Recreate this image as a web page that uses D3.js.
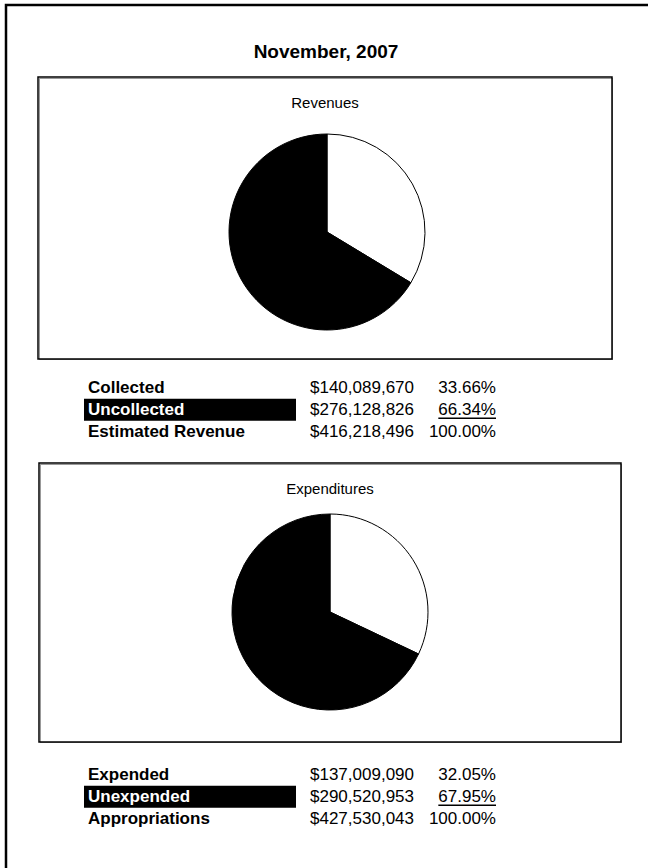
<!DOCTYPE html>
<html>
<head>
<meta charset="utf-8">
<script src="https://cdn.jsdelivr.net/npm/d3@7"></script>
<style>
  html, body { margin: 0; padding: 0; background: #fff; }
  svg text { font-family: Arial, 'Liberation Sans', sans-serif; fill: #000; }
  .title { font-size: 19px; font-weight: bold; }
  .panel-title { font-size: 15px; }
  .row-label { font-size: 17px; font-weight: bold; }
  .row-label.hl { fill: #fff; }
  .row-val { font-size: 17px; }
</style>
</head>
<body>
<div id="chart"></div>
<script>
// ---- data ----
const titleText = "November, 2007";

const revLabels = ["Collected", "Uncollected", "Estimated Revenue"];
const revAmounts = [140089670, 276128826, 416218496];
const revPercents = ["33.66%", "66.34%", "100.00%"];

const expLabels = ["Expended", "Unexpended", "Appropriations"];
const expAmounts = [137009090, 290520953, 427530043];
const expPercents = ["32.05%", "67.95%", "100.00%"];

const W = 648, H = 868;

const svg = d3.select("#chart").append("svg")
  .attr("width", W).attr("height", H);

// outer frame runs off the right and bottom edges
svg.append("rect")
  .attr("x", 6).attr("y", 5)
  .attr("width", 800).attr("height", 1000)
  .attr("fill", "none").attr("stroke", "#000").attr("stroke-width", 2.5);

svg.append("text")
  .attr("class", "title")
  .attr("x", 326).attr("y", 58)
  .attr("text-anchor", "middle")
  .text(titleText);

const money = d3.format("$,");

function panel(opt) {
  const { box, name, labels, amounts, percents, cx, cy, r, tableY } = opt;

  // framed chart area (dark edge + grey inner line)
  svg.append("rect")
    .attr("x", box[0] + 1.5).attr("y", box[1] + 1.5)
    .attr("width", box[2] - box[0] - 1).attr("height", box[3] - box[1] - 1)
    .attr("fill", "none").attr("stroke", "#999").attr("stroke-width", 1);
  svg.append("rect")
    .attr("x", box[0]).attr("y", box[1])
    .attr("width", box[2] - box[0]).attr("height", box[3] - box[1])
    .attr("fill", "none").attr("stroke", "#000").attr("stroke-width", 1.5);

  svg.append("text")
    .attr("class", "panel-title")
    .attr("x", (box[0] + box[2]) / 2).attr("y", box[1] + 31)
    .attr("text-anchor", "middle")
    .text(name);

  // pie: first part (white) starts at 12 o'clock clockwise
  const pie = d3.pie().sort(null).value(d => d);
  const arc = d3.arc().innerRadius(0).outerRadius(r);
  const colors = ["#fff", "#000"];

  svg.append("g")
    .attr("transform", `translate(${cx},${cy})`)
    .selectAll("path")
    .data(pie(amounts.slice(0, 2)))
    .join("path")
      .attr("d", arc)
      .attr("fill", (d, i) => colors[i])
      .attr("stroke", "#000")
      .attr("stroke-width", 1);

  // summary table
  const y = d3.scalePoint().domain(labels).range([tableY, tableY + 43.5]);
  const g = svg.append("g");

  g.append("rect")
    .attr("x", 84).attr("y", y(labels[1]) - 16)
    .attr("width", 212).attr("height", 22)
    .attr("fill", "#000");

  g.selectAll(".row-label")
    .data(labels)
    .join("text")
      .attr("class", (d, i) => i === 1 ? "row-label hl" : "row-label")
      .attr("x", 88).attr("y", d => y(d))
      .text(d => d);

  g.selectAll(".amt")
    .data(amounts)
    .join("text")
      .attr("class", "row-val amt")
      .attr("x", 310).attr("y", (d, i) => y(labels[i]))
      .text(d => money(d));

  const pct = g.selectAll(".pct")
    .data(percents)
    .join("text")
      .attr("class", "row-val pct")
      .attr("x", 496).attr("y", (d, i) => y(labels[i]))
      .attr("text-anchor", "end")
      .text(d => d);

  // underline the second percentage
  const bb = pct.nodes()[1].getBBox();
  g.append("line")
    .attr("x1", bb.x).attr("x2", bb.x + bb.width)
    .attr("y1", y(labels[1]) + 3.5).attr("y2", y(labels[1]) + 3.5)
    .attr("stroke", "#000").attr("stroke-width", 1.5);
}

panel({
  box: [38, 77, 612, 359], name: "Revenues",
  labels: revLabels, amounts: revAmounts, percents: revPercents,
  cx: 327, cy: 232, r: 98, tableY: 393
});

panel({
  box: [39, 463, 621, 742], name: "Expenditures",
  labels: expLabels, amounts: expAmounts, percents: expPercents,
  cx: 330, cy: 612, r: 98, tableY: 780
});
</script>
</body>
</html>
